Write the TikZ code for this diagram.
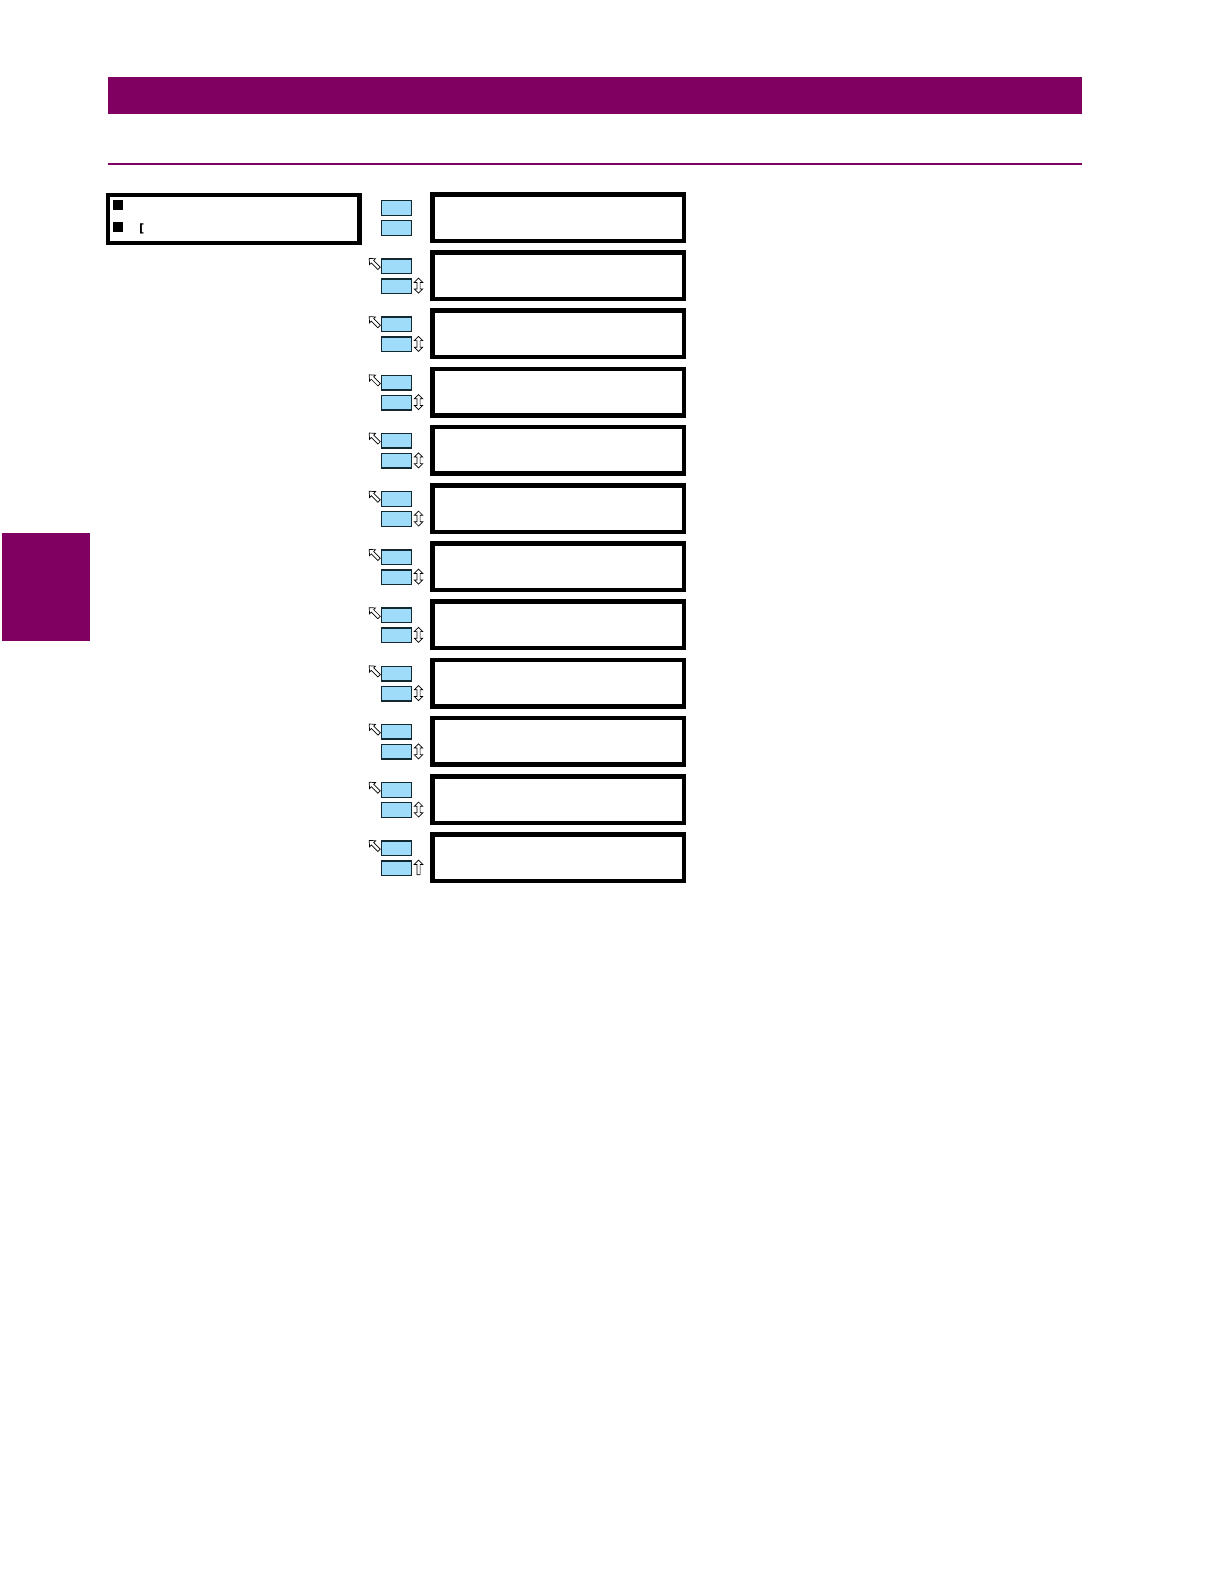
\documentclass[tikz,border=0pt]{standalone}
\usepackage{fontspec}
\newfontfamily\brfont{DejaVu Sans}
\definecolor{ge}{RGB}{128,0,98}
\definecolor{keyblue}{RGB}{158,220,250}
\definecolor{keyline}{RGB}{20,40,50}
\tikzset{
  menubox/.style={draw=black, line width=4.5pt, minimum width=251.5pt, minimum height=46.5pt, inner sep=0pt, outer sep=0pt, fill=white},
  keyrect/.style={draw=keyline, fill=keyblue, line width=1.4pt, minimum width=29.6pt, minimum height=14.6pt, inner sep=0pt},
  hollowarrow/.style={draw=black, fill=white, line width=0.7pt, line join=miter},
  bulletsq/.style={fill=black, minimum size=10pt, inner sep=0pt}
}
\newcommand{\myuparrowshape}{(0,-7.5) -- (4.2,-2.8) -- (1.7,-2.8) -- (1.7,6.5) -- (-1.7,6.5) -- (-1.7,-2.8) -- (-4.2,-2.8) -- cycle}
\newcommand{\myupdownshape}{(0,-7.5) -- (4.2,-3.3) -- (1.6,-3.3) -- (1.6,3.3) -- (4.2,3.3) -- (0,7.5) -- (-4.2,3.3) -- (-1.6,3.3) -- (-1.6,-3.3) -- (-4.2,-3.3) -- cycle}
\begin{document}
\begin{tikzpicture}[x=1pt,y=-1pt]
\useasboundingbox (0,0) rectangle (1224,1584);
% header
\fill[ge] (108,77.5) rectangle (1082,114.5);
\draw[ge, line width=2pt] (108,163.5) -- (1082,163.5);
\fill[ge] (2,532.5) rectangle (90,641);
% left menu box
\node[menubox, minimum height=48pt] (menu) at (233.5,218.75) {};
\node[bulletsq] (b1) at (118,205) {};
\node[bulletsq] (b2) at (118,226.7) {};
\node[font=\brfont\bfseries\fontsize{11.5}{13}\selectfont, inner sep=0pt] (br) at (141.8,229) {[};
% right boxes and keys
\foreach \i in {0,...,11} {
  \pgfmathsetmacro{\rowtop}{192+58.2*\i}
  \node[menubox] (r\i) at (558,\rowtop+25.5) {};
  \node[keyrect] (ka\i) at (396.5,\rowtop+16) {};
  \node[keyrect] (kb\i) at (396.5,\rowtop+36) {};
}
\foreach \i in {1,...,11} {
  \pgfmathsetmacro{\rowtop}{192+58.2*\i}
  \coordinate (na\i) at (374.5,\rowtop+13.5);
  \begin{scope}[shift={(na\i)}, rotate=45]
    \draw[hollowarrow] \myuparrowshape;
  \end{scope}
}
\foreach \i in {1,...,10} {
  \pgfmathsetmacro{\rowtop}{192+58.2*\i}
  \coordinate (ud\i) at (418.5,\rowtop+35.5);
  \begin{scope}[shift={(ud\i)}]
    \draw[hollowarrow] \myupdownshape;
  \end{scope}
}
\coordinate (up11) at (418.5,192+58.2*11+35.5);
\begin{scope}[shift={(up11)}]
  \draw[hollowarrow] (0,-7.5) -- (4.2,-3.3) -- (1.6,-3.3) -- (1.6,7) -- (-1.6,7) -- (-1.6,-3.3) -- (-4.2,-3.3) -- cycle;
\end{scope}
\end{tikzpicture}
\end{document}
